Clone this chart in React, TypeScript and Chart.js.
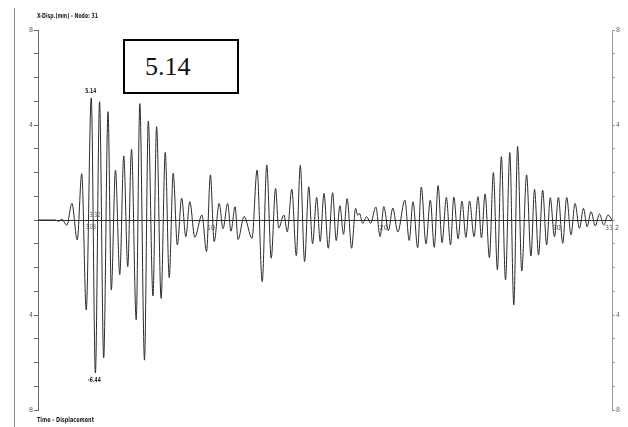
import React, { useEffect, useRef } from 'react';
import { Chart, registerables } from 'chart.js';

Chart.register(...registerables);

// ---- data (time in s, displacement in mm) ----
const waveTime = [
  0, 0.99, 1.18, 1.38, 1.67, 1.96, 2.27, 2.53, 2.79, 3.08,
  3.32, 3.56, 3.80, 4.05, 4.24, 4.48, 4.73, 4.96, 5.19, 5.41,
  5.68, 5.89, 6.16, 6.38, 6.65, 6.86, 7.12, 7.36, 7.59, 7.82,
  8.06, 8.31, 8.55, 8.78, 9.07, 9.48, 9.75, 9.97, 10.19, 10.48,
  10.70, 10.97, 11.16, 11.40, 11.57, 11.92, 12.38, 12.67, 12.97, 13.23,
  13.49, 13.74, 13.92, 14.22, 14.42, 14.68, 14.94, 15.17, 15.42, 15.66,
  15.88, 16.12, 16.32, 16.54, 16.79, 17.04, 17.25, 17.46, 17.67, 17.88,
  18.14, 18.37, 18.49, 18.59, 18.78, 19.01, 19.24, 19.54, 19.79, 20.00,
  20.27, 20.52, 20.81, 21.22, 21.47, 21.69, 21.96, 22.17, 22.44, 22.69,
  22.92, 23.14, 23.37, 23.62, 23.86, 24.05, 24.30, 24.52, 24.75, 24.96,
  25.22, 25.45, 25.65, 25.86, 26.11, 26.34, 26.57, 26.80, 27.04, 27.29,
  27.52, 27.74, 27.98, 28.26, 28.51, 28.72, 28.95, 29.19, 29.42, 29.63,
  29.87, 30.10, 30.35, 30.58, 30.83, 31.06, 31.32, 31.55, 31.76, 31.99,
  32.23, 32.48, 32.72, 32.97, 33.2,
];

const waveDisp = [
  0, 0, -0.05, 0.03, -0.22, 0.7, -0.84, 1.95, -3.79, 5.14,
  -6.44, 4.98, -5.8, 4.56, -2.95, 2.1, -2.3, 2.7, -1.97, 2.98,
  -4.2, 4.9, -5.9, 4.17, -3.2, 3.93, -3.3, 2.85, -2.43, 1.97,
  -1.05, 0.92, -0.7, 0.77, -0.73, 0.21, -1.33, 1.9, -0.91, 0.7,
  -0.37, 0.7, -0.47, 0.56, -0.82, 0.15, -0.77, 2.1, -2.6, 2.32,
  -1.61, 1.33, -0.34, 0.21, -0.5, 1.3, -1.5, 2.3, -1.75, 1.4,
  -1.0, 0.95, -0.9, 1.12, -1.19, 1.15, -0.87, 0.6, -0.6, 0.9,
  -1.19, 0.49, 0.2, 0.28, -0.14, 0.14, -0.14, 0.55, -0.7, 0.57,
  -0.45, 0.5, -0.5, 0.84, -0.86, 0.77, -1.17, 1.39, -1.0, 0.84,
  -1.15, 1.45, -0.95, 0.95, -1.05, 0.97, -0.79, 0.8, -0.73, 0.8,
  -0.7, 0.98, -0.75, 1.1, -1.59, 2.0, -2.1, 2.67, -2.52, 2.84,
  -3.58, 3.1, -2.15, 1.9, -1.52, 1.29, -1.47, 1.26, -1.05, 0.94,
  -0.7, 0.95, -0.98, 0.95, -0.63, 0.7, -0.35, 0.49, -0.28, 0.35,
  -0.25, 0.25, -0.21, 0.21, 0,
];

const xTickValues = [10, 20, 30, 33.2];
const yLabelValues = [-8, -4, 4, 8];
const maxValue = 5.14;
const maxTime = 3.08;
const minValue = -6.44;
const minTime = 3.32;
const titleText = 'X-Disp.(mm) - Node: 31';
const footerText = 'Time - Displacement';
const boxText = '5.14';

const NARROW = '"Liberation Sans Narrow", "DejaVu Sans Condensed", "Liberation Sans", sans-serif';

const overlayPlugin = {
  id: 'overlayTexts',
  afterDraw(chart: any) {
    const { ctx } = chart;
    const x = chart.scales.x;
    const y = chart.scales.y;
    ctx.save();
    // page border line
    ctx.strokeStyle = '#8a8a8a';
    ctx.lineWidth = 1;
    ctx.beginPath();
    ctx.moveTo(14.5, 8);
    ctx.lineTo(14.5, chart.height);
    ctx.stroke();

    ctx.fillStyle = '#1e1e1e';
    ctx.textBaseline = 'alphabetic';
    ctx.textAlign = 'left';
    ctx.font = `bold 7px ${NARROW}`;
    ctx.fillText(titleText, 37, 17.5, 61);
    ctx.fillText(footerText, 37, 422, 57);

    // extreme value labels
    ctx.textAlign = 'center';
    const pxMax = x.getPixelForValue(maxTime);
    const pxMin = x.getPixelForValue(minTime);
    const pyMax = y.getPixelForValue(maxValue);
    const pyMin = y.getPixelForValue(minValue);
    const y0 = y.getPixelForValue(0);
    ctx.fillText(maxValue.toFixed(2), pxMax - 0.5, pyMax - 4.5, 11);
    ctx.fillText(minValue.toFixed(2), pxMin - 1, pyMin + 9, 13);

    ctx.font = `7px ${NARROW}`;
    ctx.fillStyle = '#555';
    ctx.fillText(minTime.toFixed(2), pxMin - 0.5, y0 - 3.5, 11);
    ctx.fillText(maxTime.toFixed(2), pxMax - 0.5, y0 + 9, 10);
    ctx.restore();
  },
};

export default function App() {
  const canvasRef = useRef<HTMLCanvasElement | null>(null);

  useEffect(() => {
    document.body.style.margin = '0';
    const canvas = canvasRef.current;
    if (!canvas) return;
    const n = Math.min(waveTime.length, waveDisp.length);
    const points = [];
    for (let i = 0; i < n; i++) points.push({ x: waveTime[i], y: waveDisp[i] });

    const yTickCb = (v: any) => (yLabelValues.includes(Number(v)) ? String(Math.abs(Number(v))) : '');

    const chart = new Chart(canvas, {
      type: 'line',
      data: {
        datasets: [
          {
            data: points,
            borderColor: '#2b2b2b',
            borderWidth: 1,
            pointRadius: 0,
            cubicInterpolationMode: 'monotone',
            fill: false,
          },
        ],
      },
      options: {
        animation: false,
        responsive: false,
        maintainAspectRatio: false,
        layout: { padding: { left: 0, right: 0, top: 30, bottom: 17 } },
        plugins: { legend: { display: false }, tooltip: { enabled: false }, title: { display: false } },
        scales: {
          x: {
            type: 'linear',
            min: 0,
            max: 33.2,
            position: { y: 0 } as any,
            grid: { display: false, drawTicks: false },
            border: { display: true, color: '#333', width: 1 },
            afterBuildTicks: (s: any) => {
              s.ticks = xTickValues.map((v) => ({ value: v }));
            },
            ticks: {
              autoSkip: false,
              maxRotation: 0,
              padding: 4,
              color: '#555',
              font: { size: 7, family: NARROW },
              callback: (v: any) => String(v),
            },
          },
          y: {
            type: 'linear',
            position: 'left',
            min: -8,
            max: 8,
            afterFit: (s: any) => {
              s.width = 38;
            },
            grid: { drawOnChartArea: false, tickLength: 4, color: '#666' },
            border: { display: true, color: '#666' },
            ticks: {
              stepSize: 1,
              autoSkip: false,
              padding: 1,
              color: '#555',
              font: { size: 7, family: NARROW },
              callback: yTickCb,
            },
          },
          y2: {
            type: 'linear',
            position: 'right',
            min: -8,
            max: 8,
            afterFit: (s: any) => {
              s.width = 16;
            },
            grid: { drawOnChartArea: false, tickLength: 3, color: '#999' },
            border: { display: true, color: '#999' },
            ticks: {
              stepSize: 1,
              autoSkip: false,
              padding: 1,
              color: '#666',
              font: { size: 7, family: NARROW },
              callback: yTickCb,
            },
          },
        },
      } as any,
      plugins: [overlayPlugin],
    });
    return () => chart.destroy();
  }, []);

  return (
    <div style={{ position: 'relative', width: 628, height: 427, background: '#fff' }}>
      <canvas ref={canvasRef} width={628} height={427} style={{ display: 'block' }} />
      <div
        style={{
          position: 'absolute',
          left: 123,
          top: 39,
          width: 116,
          height: 55,
          boxSizing: 'border-box',
          border: '2px solid #000',
          background: '#fff',
        }}
      >
        <span
          style={{
            position: 'absolute',
            left: 20,
            top: 13,
            fontFamily: '"Liberation Serif", "Times New Roman", serif',
            fontSize: 26,
            lineHeight: '26px',
            color: '#111',
            whiteSpace: 'nowrap',
          }}
        >
          {boxText}
        </span>
      </div>
    </div>
  );
}
